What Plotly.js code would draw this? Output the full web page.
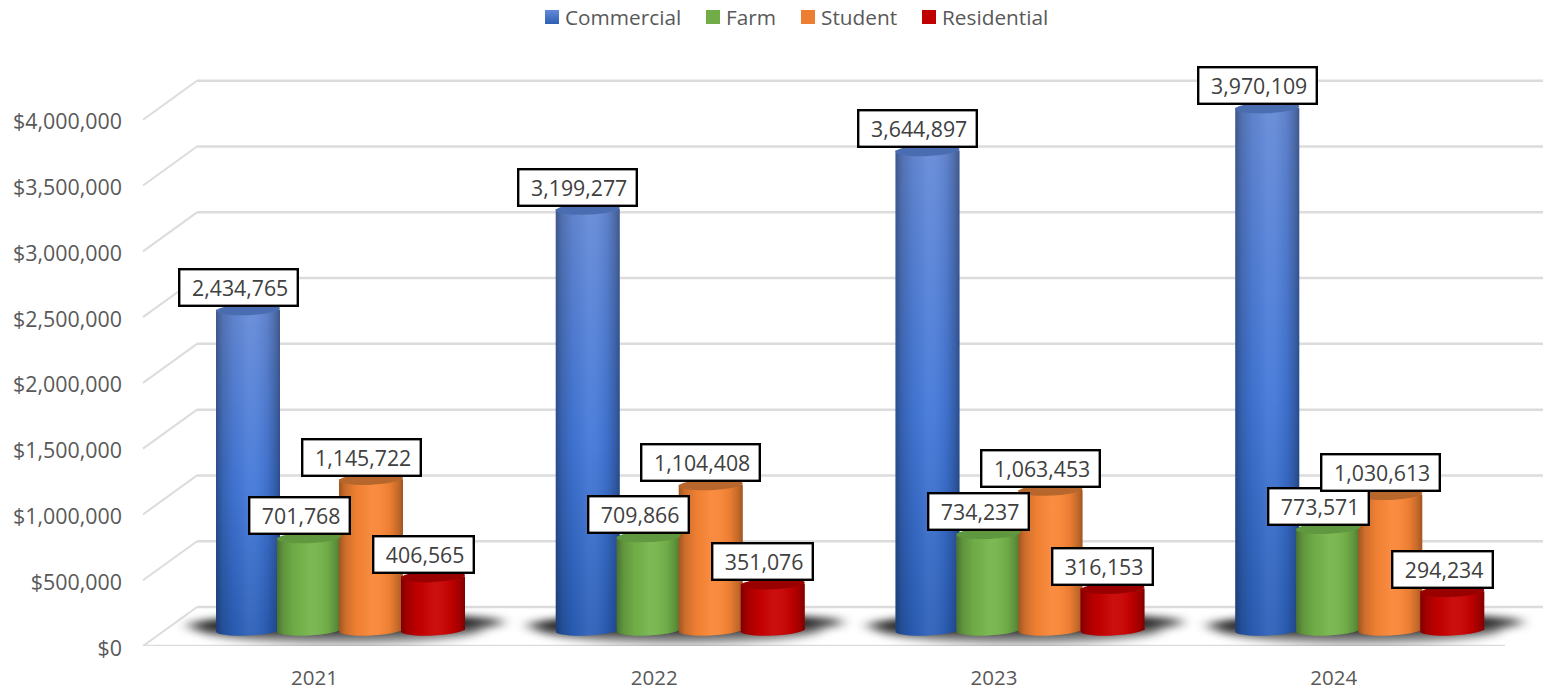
<!DOCTYPE html>
<html>
<head>
<meta charset="utf-8">
<script src="https://cdn.plot.ly/plotly-3.0.1.min.js"></script>
<style>html,body{margin:0;padding:0;background:#fff}</style>
</head>
<body>
<div id="chart" style="width:1543px;height:689px"></div>
<script>
// Revenue by customer class, drawn as a pseudo-3D cylinder column chart.
const years = ['2021', '2022', '2023', '2024'];
const commercial = [2434765, 3199277, 3644897, 3970109];
const farm = [701768, 709866, 734237, 773571];
const student = [1145722, 1104408, 1063453, 1030613];
const residential = [406565, 351076, 316153, 294234];
const tickValues = [0, 500000, 1000000, 1500000, 2000000, 2500000, 3000000, 3500000, 4000000];
const tickLabels = ['$0', '$500,000', '$1,000,000', '$1,500,000', '$2,000,000', '$2,500,000', '$3,000,000', '$3,500,000', '$4,000,000'];

const seriesNames = ['Commercial', 'Farm', 'Student', 'Residential'];
const seriesValues = [commercial, farm, student, residential];
const seriesColors = ['#3f74d2', '#74b44a', '#f98535', '#c80000'];
const legendColors = ['#4472c4', '#70ad47', '#ed7d31', '#c00000'];
const capColors = ['#4a6cb0', '#5f983f', '#b8672c', '#990000'];
const seriesOffsetsPx = [-92.5, -31.5, 30.5, 92.5];

// Frame geometry, in pixels of the drawing surface.
const W = 1543, H = 689;
const plotL = 143, plotR = 1543, plotB = 646;
const unitPerPx = 4000000 / 526;
const plotT = plotB - 4500000 / unitPerPx;
const groupPx = 339.75;
const barPx = 64;
const floorLift = 16;     // columns stand this far behind the front edge of the floor
const wallLift = 39;      // height of the back wall above the front edge
const wallX = 197;        // left end of the back wall
const frontEndX = 1505;   // right end of the floor's front edge
const gridColor = '#dcdcdc';

const paperX = px => (px - plotL) / (plotR - plotL);

// Tilted ellipse as a closed bezier path, in pixels relative to its anchor (y up).
function ellipsePath(cx, cy, rx, ry, deg) {
  const a = deg * Math.PI / 180, k = 0.5523;
  const p = (u, v) => {
    const x = cx + u * Math.cos(a) - v * Math.sin(a);
    const y = cy + u * Math.sin(a) + v * Math.cos(a);
    return x.toFixed(2) + ',' + y.toFixed(2);
  };
  return 'M' + p(rx, 0) +
    'C' + p(rx, k * ry) + ' ' + p(k * rx, ry) + ' ' + p(0, ry) +
    'C' + p(-k * rx, ry) + ' ' + p(-rx, k * ry) + ' ' + p(-rx, 0) +
    'C' + p(-rx, -k * ry) + ' ' + p(-k * rx, -ry) + ' ' + p(0, -ry) +
    'C' + p(k * rx, -ry) + ' ' + p(rx, -k * ry) + ' ' + p(rx, 0) + 'Z';
}

const shapes = [];
const shadowIdx = [], baseCapIdx = [];

// Floor front edge, back wall lines and the diagonals joining them.
shapes.push({type: 'line', xref: 'paper', yref: 'y2', x0: 0, x1: paperX(frontEndX), y0: 0, y1: 0,
  line: {color: gridColor, width: 2.5}, layer: 'below'});
tickValues.forEach(t => {
  const back = t + wallLift * unitPerPx;
  shapes.push({type: 'line', xref: 'paper', yref: 'y2', x0: paperX(wallX), x1: 1, y0: back, y1: back,
    line: {color: gridColor, width: 2.5}, layer: 'below'});
  shapes.push({type: 'line', xref: 'paper', yref: 'y2', x0: 0, x1: paperX(wallX), y0: t, y1: back,
    line: {color: gridColor, width: 2}, layer: 'below'});
});

// Soft contact shadow under each group of columns: a wide haze and a darker core.
// Category axes position shapes and annotations by index.
years.forEach((year, i) => {
  shadowIdx.push(shapes.length);
  shapes.push({type: 'path', xref: 'x', yref: 'y', xsizemode: 'pixel', ysizemode: 'pixel',
    xanchor: i, yanchor: 0, path: ellipsePath(0, 1, 142, 15, 0),
    fillcolor: 'rgba(0,0,0,0.45)', line: {width: 0}, layer: 'below'});
  shadowIdx.push(shapes.length);
  shapes.push({type: 'path', xref: 'x', yref: 'y', xsizemode: 'pixel', ysizemode: 'pixel',
    xanchor: i, yanchor: 0, path: ellipsePath(5, 6, 158, 9, 0.6),
    fillcolor: 'rgba(0,0,0,0.85)', line: {width: 0}, layer: 'below'});
});

// Rounded foot of every column, sitting under the bars.
seriesValues.forEach((vals, s) => {
  years.forEach((year, i) => {
    baseCapIdx.push({index: shapes.length, series: s});
    shapes.push({type: 'path', xref: 'x', yref: 'y', xsizemode: 'pixel', ysizemode: 'pixel',
      xanchor: i, yanchor: 0, path: ellipsePath(seriesOffsetsPx[s], 0, barPx / 2, 5.5, 2.5),
      fillcolor: s === 0 ? '#2b5fb8' : seriesColors[s], line: {width: 0}, layer: 'below'});
  });
});

// Darker top face of every column.
seriesValues.forEach((vals, s) => {
  vals.forEach((v, i) => {
    shapes.push({type: 'path', xref: 'x', yref: 'y', xsizemode: 'pixel', ysizemode: 'pixel',
      xanchor: i, yanchor: v, path: ellipsePath(seriesOffsetsPx[s], 0, barPx / 2, 5.5, 2.5),
      fillcolor: capColors[s], line: {width: 0}, layer: 'above'});
  });
});

const barTraces = seriesNames.map((name, s) => ({
  type: 'bar', name: name, x: years, y: seriesValues[s],
  width: barPx / groupPx, offset: (seriesOffsetsPx[s] - barPx / 2) / groupPx,
  marker: {color: seriesColors[s], line: {width: 0}},
  hoverinfo: 'x+y+name'
}));

// Invisible trace that carries the labelled axes.
const axisTrace = {type: 'scatter', mode: 'lines', x: years, y: [0, 0, 0, 0], xaxis: 'x2', yaxis: 'y2',
  line: {color: 'rgba(0,0,0,0)'}, showlegend: false, hoverinfo: 'skip'};

const annotations = [];
seriesValues.forEach((vals, s) => {
  vals.forEach((v, i) => {
    annotations.push({
      x: i, y: v, xref: 'x', yref: 'y', showarrow: false,
      text: v.toLocaleString('en-US'),
      xshift: seriesOffsetsPx[s] - 10, yshift: 22,
      width: v >= 1000000 ? 116.5 : 98.5, height: 34, borderpad: 0,
      bgcolor: '#ffffff', bordercolor: '#000000', borderwidth: 2.4,
      font: {family: 'Open Sans', size: 21.3, color: '#404040'}, align: 'center'
    });
  });
});

const mainLeft = -(340.5 - plotL) / groupPx;
const tickLeft = -(314.5 - plotL) / groupPx;
const span = (plotR - plotL) / groupPx;
const valueSpan = 4500000;

const hiddenAxis = {showgrid: false, zeroline: false, showline: false, showticklabels: false, ticks: '', fixedrange: true};

const layout = {
  width: W, height: H, autosize: false,
  margin: {l: plotL, r: W - plotR, t: plotT, b: H - plotB, pad: 0},
  paper_bgcolor: '#ffffff', plot_bgcolor: 'rgba(0,0,0,0)',
  barmode: 'overlay',
  font: {family: 'Open Sans', color: '#595959'},
  xaxis: Object.assign({type: 'category', categoryorder: 'array', categoryarray: years, range: [mainLeft, mainLeft + span]}, hiddenAxis),
  yaxis: Object.assign({range: [-floorLift * unitPerPx, valueSpan - floorLift * unitPerPx]}, hiddenAxis),
  xaxis2: {type: 'category', categoryorder: 'array', categoryarray: years, overlaying: 'x', anchor: 'y2', side: 'bottom',
    range: [tickLeft, tickLeft + span], showgrid: false, zeroline: false, showline: false, ticks: '',
    ticklabelstandoff: 17, tickfont: {family: 'Open Sans', size: 20.5, color: '#595959'}, fixedrange: true},
  yaxis2: {overlaying: 'y', anchor: 'x2', side: 'left', range: [0, valueSpan], tickmode: 'array',
    tickvals: tickValues, ticktext: tickLabels, showgrid: false, zeroline: false, showline: false, ticks: '',
    ticklabelstandoff: 20, tickfont: {family: 'Open Sans', size: 21.4, color: '#595959'}, fixedrange: true},
  legend: {orientation: 'h', x: 0.5, xref: 'container', xanchor: 'center', y: 1, yref: 'container', yanchor: 'top',
    font: {family: 'Open Sans', size: 20.8, color: '#595959'}, traceorder: 'normal'},
  shapes: shapes,
  annotations: annotations,
  hovermode: 'closest'
};

// Cylinder shading, blurred shadows and legend swatches are finished on the rendered SVG.
function svgEl(tag, attrs, parent) {
  const el = document.createElementNS('http://www.w3.org/2000/svg', tag);
  Object.keys(attrs).forEach(k => el.setAttribute(k, attrs[k]));
  if (parent) parent.appendChild(el);
  return el;
}
function linearGradient(defs, id, vertical, stops) {
  const g = svgEl('linearGradient', {id: id, x1: 0, y1: 0, x2: vertical ? 0 : 1, y2: vertical ? 1 : 0}, defs);
  stops.forEach(st => svgEl('stop', {offset: st[0], 'stop-color': st[1], 'stop-opacity': st[2] === undefined ? 1 : st[2]}, g));
}
function finish(gd) {
  const svg = gd.querySelector('svg.main-svg');
  const defs = svgEl('defs', {}, svg);
  linearGradient(defs, 'blueBody', true, [[0, '#6489d6'], [0.55, '#4277d8'], [1, '#2b5fb8']]);
  linearGradient(defs, 'blueSwatch', true, [[0, '#6189d8'], [1, '#2f60b5']]);
  linearGradient(defs, 'cylShade', false, [
    [0, '#000', 0.36], [0.1, '#000', 0.18], [0.28, '#000', 0.04], [0.5, '#fff', 0.06],
    [0.62, '#fff', 0.05], [0.8, '#000', 0.06], [0.93, '#000', 0.22], [1, '#000', 0.36]]);
  const blur = svgEl('filter', {id: 'softShadow', filterUnits: 'userSpaceOnUse', x: 0, y: 540, width: W, height: H - 540}, defs);
  svgEl('feGaussianBlur', {stdDeviation: '7 4.5'}, blur);

  const shade = path => {
    const copy = path.cloneNode(true);
    copy.style.fill = 'url(#cylShade)';
    copy.style.fillOpacity = 1;
    path.parentNode.insertBefore(copy, path.nextSibling);
  };
  gd.querySelectorAll('.barlayer .trace.bars').forEach((tr, s) => {
    tr.querySelectorAll('.point path').forEach(p => {
      if (s === 0) p.style.fill = 'url(#blueBody)';
      shade(p);
    });
  });
  const shapeAt = i => gd.querySelector('.shapelayer path[data-index="' + i + '"]');
  shadowIdx.forEach(i => {
    const p = shapeAt(i);
    if (p) { p.removeAttribute('clip-path'); p.setAttribute('filter', 'url(#softShadow)'); }
  });
  baseCapIdx.forEach(c => { const p = shapeAt(c.index); if (p) shade(p); });

  // Legend: larger square swatches and the tighter item spacing.
  const itemLeft = [545, 706, 801, 922];
  const legend = gd.querySelector('.legend');
  const lm = legend.getCTM();
  const scroll = legend.querySelector('.scrollbox');
  if (scroll) scroll.removeAttribute('clip-path');
  legend.setAttribute('transform', 'translate(' + lm.e + ',' + (lm.f - 3) + ')');
  legend.querySelectorAll('.traces').forEach((it, s) => {
    const sw = it.querySelector('.legendpoints path');
    if (sw) {
      sw.setAttribute('d', 'M7,7H-7V-7H7Z');
      sw.setAttribute('transform', 'translate(27,0)');
      sw.style.fill = s === 0 ? 'url(#blueSwatch)' : legendColors[s];
    }
    const tm = it.transform.baseVal.consolidate().matrix;
    it.setAttribute('transform', 'translate(' + (itemLeft[s] - 20 - lm.e) + ',' + tm.f + ')');
  });

  // Fine placement of the axis and box labels.
  gd.querySelectorAll('.y2tick text').forEach(t => {
    t.setAttribute('y', parseFloat(t.getAttribute('y')) + 2);
  });
  gd.querySelectorAll('.annotation-text').forEach(t => t.setAttribute('dx', 1.5));
}

Plotly.newPlot('chart', barTraces.concat([axisTrace]), layout, {displayModeBar: false, responsive: false})
  .then(finish);
</script>
</body>
</html>
